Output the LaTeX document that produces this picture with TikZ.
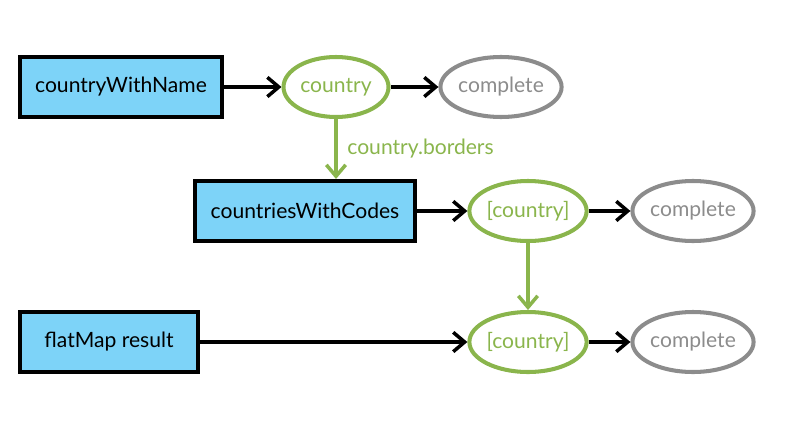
\documentclass[tikz,border=0pt]{standalone}
\usepackage{fontspec}
\setmainfont{Lato}
\usetikzlibrary{shapes.geometric, arrows.meta}
\definecolor{boxblue}{HTML}{7DD3F8}
\definecolor{obsgreen}{HTML}{8AB54C}
\definecolor{donegray}{HTML}{8C8C8C}
\begin{document}
\begin{tikzpicture}[x=0.02cm, y=-0.02cm, >={Straight Barb[length=6.5pt, width=11pt, line width=2pt]},
	font=\fontsize{12}{14}\selectfont,
	source/.style={draw=black, fill=boxblue, line width=2.3pt, minimum height=1.2cm, inner sep=0pt},
	value/.style={ellipse, draw=obsgreen, text=obsgreen, line width=2.3pt, minimum width=2.1cm, minimum height=1.2cm, inner sep=0pt},
	done/.style={ellipse, draw=donegray, text=donegray, line width=2.3pt, minimum width=2.1cm, minimum height=1.2cm, inner sep=0pt},
	flow/.style={->, line width=2.3pt}]
	\useasboundingbox (0,0) rectangle (800,429);
	% Quelle
	\node[source, minimum width=4.04cm] (name) at (121,87) {countryWithName};
	\node[value] (country) at (336,87) {country};
	\node[done] (done1) at (501,87) {complete};
	% Codes
	\node[source, minimum width=4.4cm] (codes) at (305,211) {countriesWithCodes};
	\node[value, minimum width=2.26cm] (list1) at (528,211) {[country]};
	\node[done] (done2) at (693,211) {complete};
	% Ergebnis
	\node[source, minimum width=3.56cm] (result) at (109,342) {flatMap result};
	\node[value, minimum width=2.26cm] (list2) at (528,342) {[country]};
	\node[done] (done3) at (693,342) {complete};
	% Pfeile
	\draw[flow] (name) -- (country);
	\draw[flow] (country) -- (done1);
	\draw[flow, obsgreen] (country.south) -- node[right, text=obsgreen, xshift=2pt] {country.borders} (country.south |- codes.north);
	\draw[flow] (codes) -- (list1);
	\draw[flow] (list1) -- (done2);
	\draw[flow, obsgreen] (list1) -- (list2);
	\draw[flow] (result) -- (list2);
	\draw[flow] (list2) -- (done3);
\end{tikzpicture}
\end{document}
